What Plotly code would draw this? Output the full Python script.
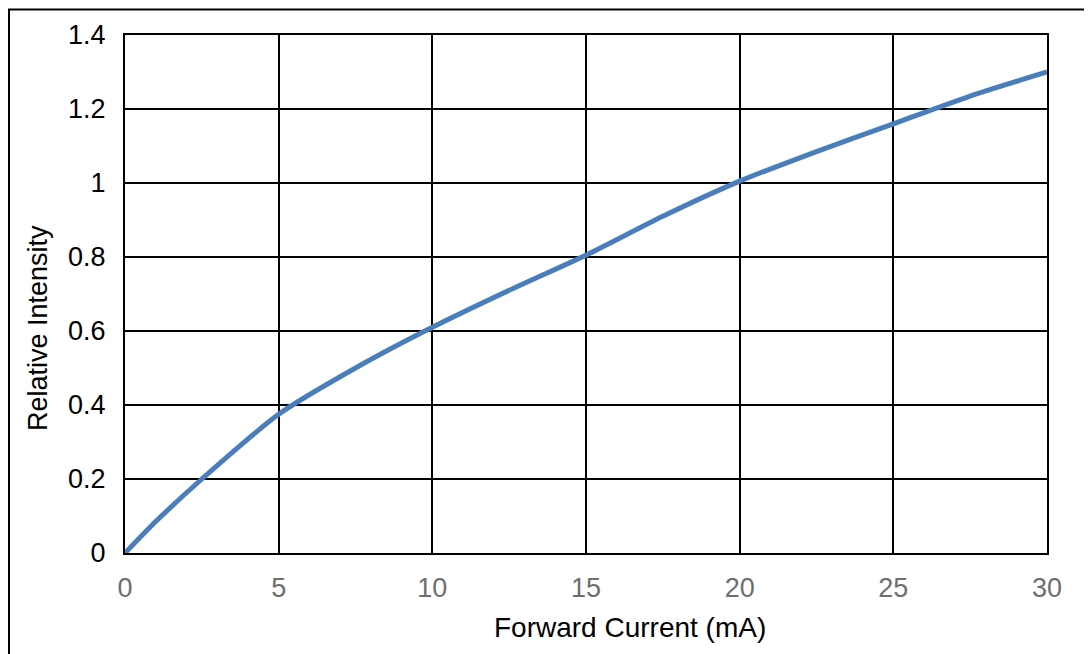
import plotly.graph_objects as go

current_mA = [0, 1, 2.5, 5, 7.5, 10, 12.5, 15, 17.5, 20, 22.5, 25, 27.5, 30]
relative_intensity = [0, 0.085, 0.2, 0.375, 0.5, 0.61, 0.71, 0.805, 0.91, 1.005, 1.085, 1.16, 1.235, 1.30]

x_ticks = [0, 5, 10, 15, 20, 25, 30]
y_ticks = [0, 0.2, 0.4, 0.6, 0.8, 1.0, 1.2, 1.4]
y_tick_text = ["0", "0.2", "0.4", "0.6", "0.8", "1", "1.2", "1.4"]

x_title = "Forward Current (mA)"
y_title = "Relative Intensity"

# page body adds an 8px offset; margins compensate so plot sits at 125..1047 x 35..553
OFF = 8
W, H = 1092, 654
L, R, T, B = 125 - OFF, 45 + OFF, 35 - OFF, 101 + OFF

fig = go.Figure()
fig.add_trace(go.Scatter(
    x=current_mA, y=relative_intensity, mode="lines",
    line=dict(color="#4a7ebb", width=5, shape="spline", smoothing=0.6),
    hoverinfo="skip", showlegend=False,
))

pw = W - L - R
ph = H - T - B
# screen-pixel -> paper coordinates
def sx(p):
    return (p - OFF - L) / pw
def sy(p):
    return (H - B - (p - OFF)) / ph

fig.update_layout(
    width=W, height=H,
    margin=dict(l=L, r=R, t=T, b=B),
    paper_bgcolor="white", plot_bgcolor="white",
    font=dict(family="Liberation Sans, Arial, sans-serif", color="black"),
    xaxis=dict(
        range=[0, 30], tickvals=x_ticks, showgrid=True, gridcolor="black", gridwidth=2,
        zeroline=False, showline=True, linecolor="black", linewidth=2, mirror=True,
        tickfont=dict(size=27, color="#6e6e6e"), ticks="", ticklabelstandoff=10,
    ),
    yaxis=dict(
        range=[0, 1.4], tickvals=y_ticks, ticktext=y_tick_text, showgrid=True,
        gridcolor="black", gridwidth=2, zeroline=False, showline=True, linecolor="black",
        linewidth=2, mirror=True, tickfont=dict(size=27, color="black"), ticks="",
        ticklabelstandoff=12,
    ),
    annotations=[
        dict(text=x_title, xref="paper", yref="paper", x=sx(630), y=sy(627),
             xanchor="center", yanchor="middle", showarrow=False,
             font=dict(size=28, color="black")),
        dict(text=y_title, xref="paper", yref="paper", x=sx(38), y=sy(328),
             xanchor="center", yanchor="middle", showarrow=False, textangle=-90,
             font=dict(size=27, color="black")),
    ],
    shapes=[
        dict(type="line", xref="paper", yref="paper", x0=sx(8), x1=sx(W + 8),
             y0=sy(9.5), y1=sy(9.5), line=dict(color="black", width=2)),
        dict(type="line", xref="paper", yref="paper", x0=sx(9), x1=sx(9),
             y0=sy(9.5), y1=sy(H + 8), line=dict(color="black", width=2)),
    ],
)

fig.write_html("out.html")
